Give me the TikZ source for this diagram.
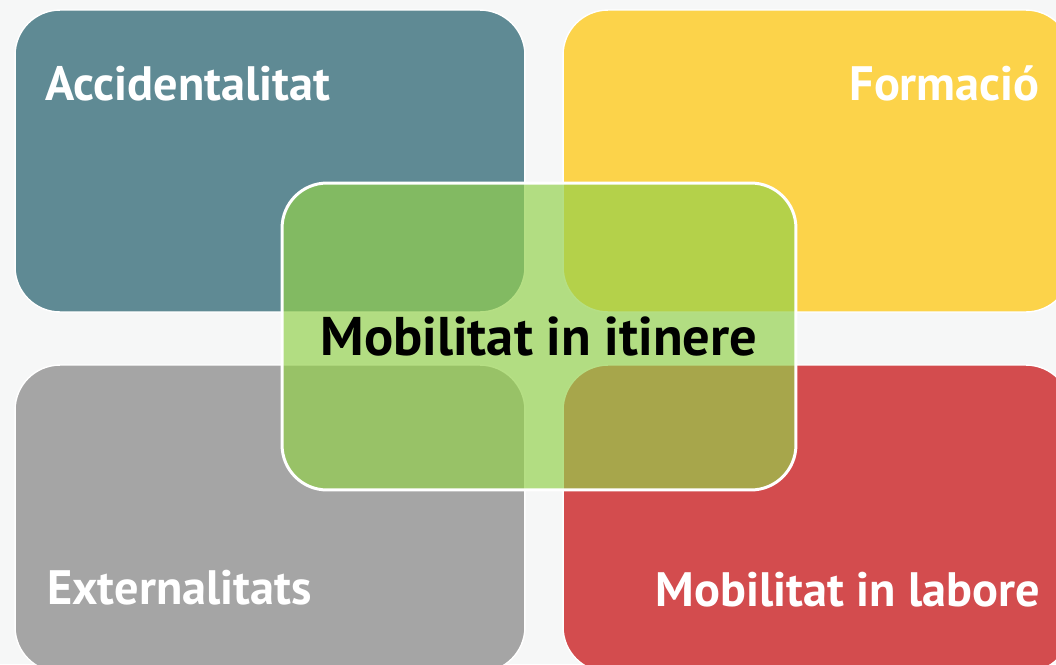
\documentclass[tikz,border=0pt]{standalone}
\usepackage{fontspec}
\setmainfont{PT Sans}
\definecolor{bgcol}{HTML}{F6F7F7}
\definecolor{tealcol}{HTML}{5F8A94}
\definecolor{yellowcol}{HTML}{FCD34A}
\definecolor{greycol}{HTML}{A5A5A5}
\definecolor{redcol}{HTML}{D34C4E}
\definecolor{greencol}{HTML}{93D14B}
\tikzset{
  box/.style={rectangle,rounded corners=0.9cm,draw=white,line width=0.8pt,
    minimum width=10.2cm,minimum height=6.04cm,inner sep=0pt},
  corner/.style={text=white,font=\bfseries\fontsize{27.5}{31}\selectfont,inner sep=0pt},
}
\begin{document}
\begin{tikzpicture}[x=0.02cm,y=-0.02cm]
                \useasboundingbox (0,0) rectangle (1056,664);
                \clip (0,0) rectangle (1056,664);
                \fill[bgcol] (0,0) rectangle (1056,664);
                %% four corner boxes
                \node[box,fill=tealcol] (acc) at (270,161) {};
                \node[box,fill=yellowcol,minimum width=10.16cm] (form) at (817,161) {};
                \node[box,fill=greycol,minimum height=6.14cm] (ext) at (270,518.5) {};
                \node[box,fill=redcol,minimum width=10.16cm,minimum height=6.14cm] (lab) at (817,518.5) {};
                %% labels
                \node[corner,anchor=base west] (tacc) at (45,100) {Accidentalitat};
                \node[corner,anchor=base east] (tform) at (1040,100) {Formació};
                \node[corner,anchor=base west] (text) at (47,604) {Externalitats};
                \node[corner,anchor=base east] (tlab) at (1040,606) {Mobilitat in labore};
                %% centre
                \node[box,fill=greencol,fill opacity=0.68,draw opacity=1,line width=1.7pt,
                  minimum width=10.28cm,minimum height=6.14cm] (itin) at (539,336.5) {};
                \node[anchor=base,inner sep=0pt,font=\bfseries\fontsize{31}{35}\selectfont] (titin) at (539,355) {Mobilitat in itinere};
            \end{tikzpicture}
\end{document}
